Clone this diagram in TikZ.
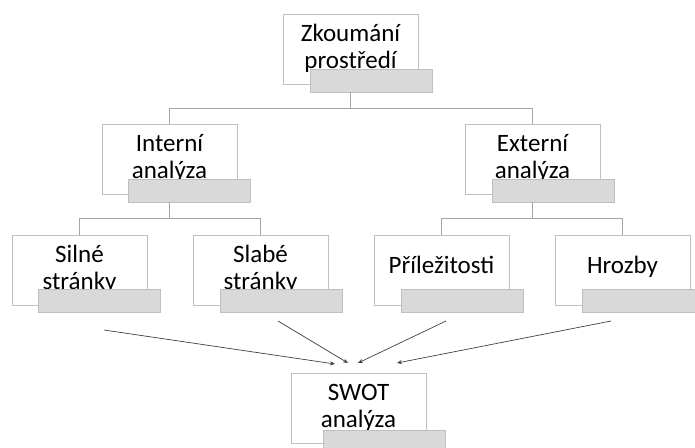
\documentclass[tikz,border=0pt]{standalone}
\usepackage{fontspec}
\setmainfont{Carlito}
\usetikzlibrary{
  arrows.meta,
  positioning,
}
\definecolor{boxline}{HTML}{BFBFBF}
\definecolor{treeline}{HTML}{A6A6A6}
\definecolor{barfill}{HTML}{D9D9D9}
\definecolor{arrowline}{HTML}{404040}
\tikzset{
  >={Stealth[length=5pt,width=4pt]},
  topic/.style={rectangle,draw=boxline,fill=white,line width=0.8pt,minimum width=135,minimum height=70,
    align=center,font=\fontsize{25}{26.5}\selectfont,inner sep=0pt,text height=54,text depth=16},
  oneline/.style={text height=38,text depth=32},
  bar/.style={rectangle,draw=boxline,fill=barfill,line width=0.8pt,minimum width=122,minimum height=23,inner sep=0pt},
  tree/.style={draw=treeline,line width=0.8pt},
  flow/.style={->,draw=arrowline,line width=0.7pt},
}

\begin{document}
\begin{tikzpicture}[x=1pt,y=1pt]

        \useasboundingbox (0,0) rectangle (695,-447);

        % top level
        \node[topic] (zkoumani) at (350.5,-49) {Zkoumání\\prostředí};
        \node[bar] (zkoumani-bar) [below right=55 and 27 of zkoumani.north west] {};

        % second level
        \node[topic] (interni) at (169.5,-159) {Interní\\analýza};
        \node[bar] (interni-bar) [below right=55 and 26 of interni.north west] {};
        \node[topic] (externi) at (532.5,-159) {Externí\\analýza};
        \node[bar] (externi-bar) [below right=55 and 27 of externi.north west] {};

        % third level
        \node[topic] (silne) at (79.5,-270) {Silné\\stránky};
        \node[bar] (silne-bar) [below right=54 and 26 of silne.north west] {};
        \node[topic] (slabe) at (260.5,-270) {Slabé\\stránky};
        \node[bar] (slabe-bar) [below right=54 and 27 of slabe.north west] {};
        \node[topic,oneline] (prilezitosti) at (441.5,-270) {Příležitosti};
        \node[bar] (prilezitosti-bar) [below right=54 and 27 of prilezitosti.north west] {};
        \node[topic,oneline] (hrozby) at (622.5,-270) {Hrozby};
        \node[bar] (hrozby-bar) [below right=54 and 27 of hrozby.north west] {};

        % result
        \node[topic] (swot) at (358.5,-408) {SWOT\\analýza};
        \node[bar] (swot-bar) [below right=57 and 32 of swot.north west] {};

        \draw[tree] (zkoumani.south |- zkoumani-bar.south) -- ++(0,-16) -| (interni.north);
        \draw[tree] (zkoumani.south |- zkoumani-bar.south) -- ++(0,-16) -| (externi.north);
        \draw[tree] (interni.south |- interni-bar.south) -- ++(0,-16) -| (silne.north);
        \draw[tree] (interni.south |- interni-bar.south) -- ++(0,-16) -| (slabe.north);
        \draw[tree] (externi.south |- externi-bar.south) -- ++(0,-16) -| (prilezitosti.north);
        \draw[tree] (externi.south |- externi-bar.south) -- ++(0,-16) -| (hrozby.north);

        \coordinate (silne-out) at (104,-330);
        \coordinate (slabe-out) at (278,-321);
        \coordinate (prilezitosti-out) at (446,-321);
        \coordinate (hrozby-out) at (611,-321);
        \coordinate (swot-in1) at (335,-364);
        \coordinate (swot-in2) at (348,-363);
        \coordinate (swot-in3) at (358,-363);
        \coordinate (swot-in4) at (397,-363);

        \draw[flow] (silne-out) -- (swot-in1);
        \draw[flow] (slabe-out) -- (swot-in2);
        \draw[flow] (prilezitosti-out) -- (swot-in3);
        \draw[flow] (hrozby-out) -- (swot-in4);

      \end{tikzpicture}
\end{document}
